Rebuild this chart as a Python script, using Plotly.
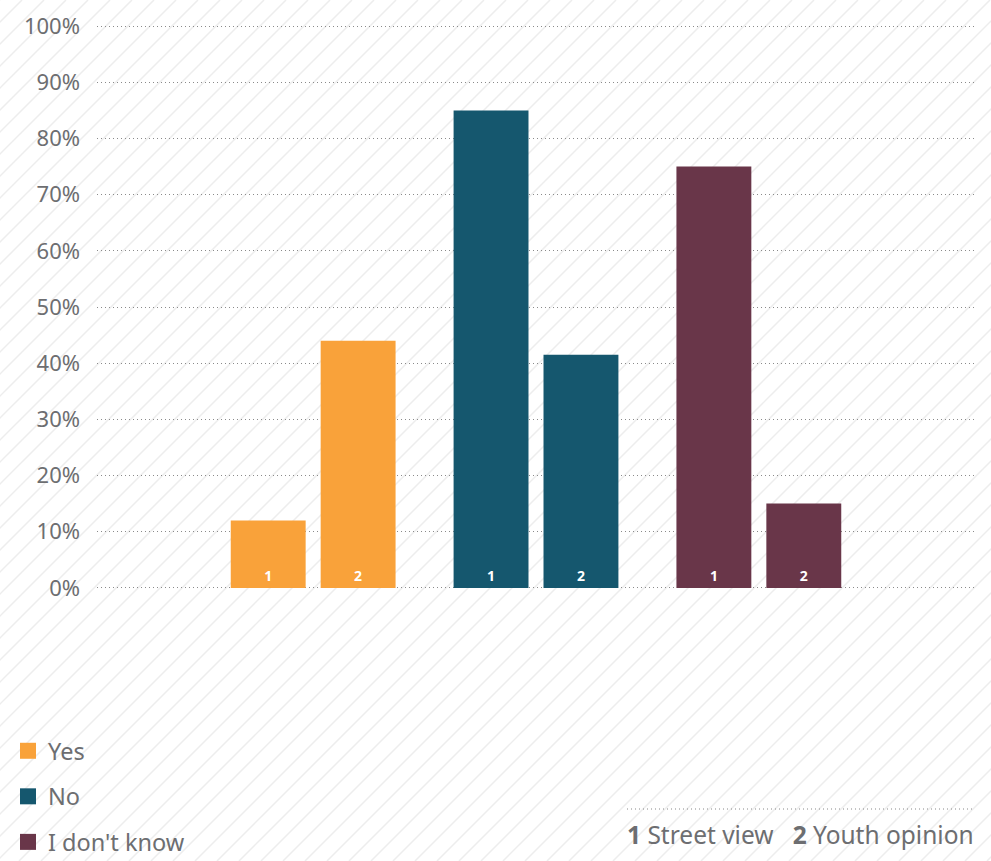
import plotly.graph_objects as go

# ---- data ----
categories = ["Yes", "No", "I don't know"]
series_names = ["1", "2"]  # 1 Street view, 2 Youth opinion
street_view = [12, 85, 75]
youth_opinion = [44, 41.5, 15]
colors = ["#F9A23A", "#15576E", "#693649"]
y_ticks = list(range(0, 101, 10))
y_tick_labels = [f"{v}%" for v in y_ticks]

W, H = 991, 861
ML, MR, MT, MB = 97, 16, 25, 272
PW, PH = W - ML - MR, H - MT - MB
Y0, Y1 = -0.2, 100.2

def px2paper(px, py):
    return (px - ML) / PW, (H - MB - py) / PH

fig = go.Figure()

series_values = [street_view, youth_opinion]
for s, vals in zip(series_names, series_values):
    for cat, v, c in zip(categories, vals, colors):
        fig.add_trace(go.Bar(
            x=[cat], y=[v], name=cat, offsetgroup=s, legendgroup=cat,
            marker=dict(color=c, line=dict(width=0)),
            text=[s], textposition="inside", insidetextanchor="start",
            textangle=0, constraintext="none",
            textfont=dict(color="white", size=14, family="Noto Sans", weight="bold"),
            showlegend=False, hoverinfo="skip",
        ))

for cat, c in zip(categories, colors):
    fig.add_trace(go.Scatter(
        x=[None], y=[None], mode="markers", name=cat, legendgroup=cat,
        marker=dict(symbol="square", size=16, color=c),
        showlegend=True,
    ))

# background diagonal hatch
segs = []
step = 22
k = -H
while k < W + step:
    x0, y0 = px2paper(k, H)
    x1, y1 = px2paper(k + H, 0)
    segs.append(f"M{x0:.5f},{y0:.5f}L{x1:.5f},{y1:.5f}")
    k += step
shapes = [dict(type="path", xref="paper", yref="paper", path="".join(segs),
               line=dict(color="#ededed", width=1.5), layer="below")]

lx0, ly = px2paper(627, 809)
lx1, _ = px2paper(975, 809)
shapes.append(dict(type="line", xref="paper", yref="paper", x0=lx0, x1=lx1, y0=ly, y1=ly,
                   line=dict(color="#888888", width=1, dash="1px,3px")))

nx, ny = px2paper(976, 834)
fig.update_layout(
    width=W, height=H,
    margin=dict(l=ML, r=MR, t=MT, b=MB, autoexpand=False),
    paper_bgcolor="white", plot_bgcolor="rgba(0,0,0,0)",
    barmode="group", bargap=0.193, bargroupgap=0.167,
    font=dict(family="Noto Sans", color="#6d6e71", size=20),
    xaxis=dict(range=[-0.97, 2.97], showticklabels=False, showgrid=False,
               zeroline=False, showline=False, ticks=""),
    yaxis=dict(range=[Y0, Y1], tickvals=y_ticks, ticktext=y_tick_labels,
               showgrid=True, gridcolor="#8a8a8a", griddash="1px,3px", gridwidth=1,
               zeroline=False, showline=False, ticklabelstandoff=16, automargin=False,
               tickfont=dict(size=22, color="#6d6e71")),
    legend=dict(x=px2paper(8, 0)[0], y=px2paper(0, 729)[1], xanchor="left", yanchor="top",
                font=dict(size=23.5, color="#6d6e71"), tracegroupgap=12,
                traceorder="grouped",
                bgcolor="rgba(0,0,0,0)", itemwidth=30),
    shapes=shapes,
    annotations=[dict(xref="paper", yref="paper", x=nx, y=ny, xanchor="right", yanchor="middle",
                      text="<b>1</b> Street view   <b>2</b> Youth opinion", showarrow=False,
                      font=dict(size=24.5, color="#6d6e71", family="Noto Sans"))],
)

fig.write_html("out.html", config={"displayModeBar": False},
               post_script="document.body.style.margin='0';document.body.style.overflow='hidden';")
